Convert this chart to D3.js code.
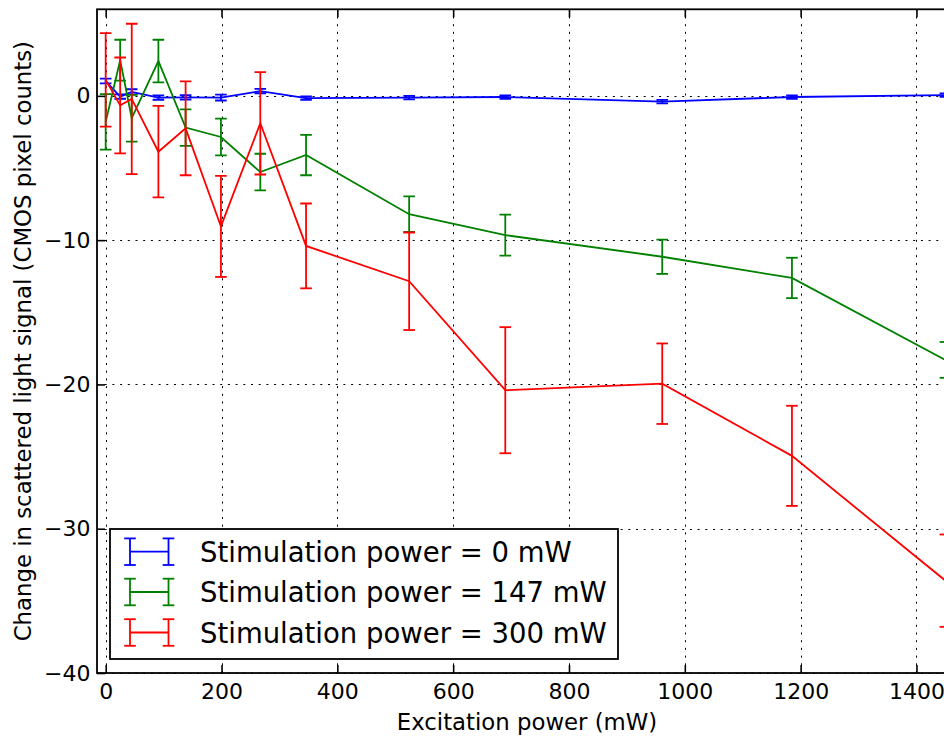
<!DOCTYPE html>
<html>
<head>
<meta charset="utf-8">
<script src="https://cdn.jsdelivr.net/npm/d3@7"></script>
<style>
  html, body { margin: 0; padding: 0; background: #fff; }
  svg { display: block; font-family: "DejaVu Sans", sans-serif; }
</style>
</head>
<body>
<svg id="chart" width="944" height="736"></svg>
<script>
// ---- data ----
const excitation = [0, 25, 45, 91, 138, 199, 267, 346, 524, 690, 961, 1185, 1450];
const stim0 = [1.03, -0.05, 0.28, -0.12, -0.1, -0.12, 0.33, -0.15, -0.12, -0.08, -0.4, -0.08, 0.05];
const stim0Err = [0.16, 0.15, 0.18, 0.15, 0.15, 0.2, 0.15, 0.12, 0.12, 0.12, 0.12, 0.12, 0.12];
const stim147 = [-1.8, 2.47, -1.55, 2.41, -2.2, -2.85, -5.28, -4.1, -8.2, -9.65, -11.15, -12.62, -18.3];
const stim147Err = [1.92, 1.42, 1.62, 1.48, 1.27, 1.27, 1.27, 1.4, 1.23, 1.42, 1.19, 1.4, 1.24];
const stim300 = [1.11, -0.66, -0.21, -3.87, -2.25, -9.05, -1.9, -10.4, -12.85, -20.4, -19.95, -24.95, -33.6];
const stim300Err = [3.24, 3.32, 5.21, 3.17, 3.25, 3.5, 3.55, 2.94, 3.38, 4.37, 2.79, 3.47, 3.2];
const seriesNames = ["Stimulation power = 0 mW", "Stimulation power = 147 mW", "Stimulation power = 300 mW"];
const seriesColors = ["#0000ff", "#008000", "#ff0000"];
const xTicks = [0, 200, 400, 600, 800, 1000, 1200, 1400];
const yTicks = [-40, -30, -20, -10, 0];
const xLabel = "Excitation power (mW)";
const yLabel = "Change in scattered light signal (CMOS pixel counts)";

const series = [
  {name: seriesNames[0], color: seriesColors[0], y: stim0, err: stim0Err},
  {name: seriesNames[1], color: seriesColors[1], y: stim147, err: stim147Err},
  {name: seriesNames[2], color: seriesColors[2], y: stim300, err: stim300Err}
];

// ---- layout ----
const L = 97, R = 957, T = 9.3, B = 673;
const x = d3.scaleLinear().domain([-15, 1470]).range([L, R]);
const y = d3.scaleLinear().domain([-40, 6]).range([B, T]);

const svg = d3.select("#chart");
svg.append("rect").attr("width", 944).attr("height", 736).attr("fill", "#fff");

svg.append("defs").append("clipPath").attr("id", "plotclip")
  .append("rect").attr("x", L).attr("y", T).attr("width", R - L).attr("height", B - T);

// grid
const grid = svg.append("g").attr("stroke", "#000").attr("stroke-width", 1)
  .attr("stroke-dasharray", "2,5.7").attr("fill", "none");
grid.selectAll("line.gx").data(xTicks).join("line")
  .attr("x1", d => Math.round(x(d)) + 0.5).attr("x2", d => Math.round(x(d)) + 0.5)
  .attr("y1", B).attr("y2", T);
grid.selectAll("line.gy").data(yTicks).join("line")
  .attr("y1", d => Math.round(y(d)) + 0.5).attr("y2", d => Math.round(y(d)) + 0.5)
  .attr("x1", L).attr("x2", R);

// data
const plot = svg.append("g").attr("clip-path", "url(#plotclip)");
const capHalf = 5.8;
const lw = 1.8;
series.forEach(s => {
  const g = plot.append("g");
  const pts = excitation.map((xv, i) => ({x: xv, y: s.y[i], e: s.err[i]}));
  g.append("path").datum(pts)
    .attr("fill", "none").attr("stroke", s.color).attr("stroke-width", lw)
    .attr("stroke-linejoin", "miter")
    .attr("d", d3.line().x(d => x(d.x)).y(d => y(d.y)));
  g.selectAll("line.eb").data(pts).join("line")
    .attr("stroke", s.color).attr("stroke-width", lw)
    .attr("x1", d => x(d.x)).attr("x2", d => x(d.x))
    .attr("y1", d => y(d.y - d.e)).attr("y2", d => y(d.y + d.e));
  const caps = pts.flatMap(d => [{x: d.x, y: d.y - d.e}, {x: d.x, y: d.y + d.e}]);
  g.selectAll("line.cap").data(caps).join("line")
    .attr("stroke", s.color).attr("stroke-width", lw)
    .attr("x1", d => x(d.x) - capHalf).attr("x2", d => x(d.x) + capHalf)
    .attr("y1", d => y(d.y)).attr("y2", d => y(d.y));
});

// axes
const fmt = d => (d < 0 ? "\u2212" + Math.abs(d) : String(d));
const xAxis = svg.append("g").attr("transform", `translate(0,${B})`)
  .call(d3.axisBottom(x).tickValues(xTicks).tickSize(-8).tickPadding(10.5).tickFormat(fmt));
const xAxisTop = svg.append("g").attr("transform", `translate(0,${T})`)
  .call(d3.axisTop(x).tickValues(xTicks).tickSize(-8).tickFormat(""));
const yAxis = svg.append("g").attr("transform", `translate(${L},0)`)
  .call(d3.axisLeft(y).tickValues(yTicks).tickSize(-8).tickPadding(6.5).tickFormat(fmt));
const yAxisRight = svg.append("g").attr("transform", `translate(${R},0)`)
  .call(d3.axisRight(y).tickValues(yTicks).tickSize(-8).tickFormat(""));
[xAxis, xAxisTop, yAxis, yAxisRight].forEach(a => {
  a.select(".domain").remove();
  a.selectAll(".tick line").attr("stroke", "#000").attr("stroke-width", 1.6);
  a.selectAll("text").attr("font-size", 22).attr("fill", "#000")
    .attr("font-family", "DejaVu Sans, sans-serif");
});

// spines
svg.append("rect").attr("x", L).attr("y", T).attr("width", R - L).attr("height", B - T)
  .attr("fill", "none").attr("stroke", "#000").attr("stroke-width", 1.8);

// axis labels
svg.append("text").attr("x", (L + R) / 2).attr("y", 730)
  .attr("text-anchor", "middle").attr("font-size", 22.8).attr("fill", "#000")
  .text(xLabel);
svg.append("text").attr("transform", `translate(31,${(T + B) / 2}) rotate(-90)`)
  .attr("text-anchor", "middle").attr("font-size", 22.8).attr("fill", "#000")
  .text(yLabel);

// legend
const leg = svg.append("g");
leg.append("rect").attr("x", 110).attr("y", 529).attr("width", 508).attr("height", 130)
  .attr("fill", "#fff").attr("stroke", "#000").attr("stroke-width", 1.8);
const rowY = [551.7, 592, 632.5];
series.forEach((s, i) => {
  const cy = rowY[i];
  const hg = leg.append("g").attr("stroke", s.color).attr("stroke-width", lw);
  const x1 = 130, x2 = 168.5, h = 13.3;
  hg.append("line").attr("x1", x1).attr("x2", x2).attr("y1", cy).attr("y2", cy);
  [x1, x2].forEach(xx => {
    hg.append("line").attr("x1", xx).attr("x2", xx).attr("y1", cy - h).attr("y2", cy + h);
    hg.append("line").attr("x1", xx - capHalf).attr("x2", xx + capHalf).attr("y1", cy - h).attr("y2", cy - h);
    hg.append("line").attr("x1", xx - capHalf).attr("x2", xx + capHalf).attr("y1", cy + h).attr("y2", cy + h);
  });
  leg.append("text").attr("x", 200).attr("y", cy + 10).attr("font-size", 27.5)
    .attr("fill", "#000").text(s.name);
});
</script>
</body>
</html>
